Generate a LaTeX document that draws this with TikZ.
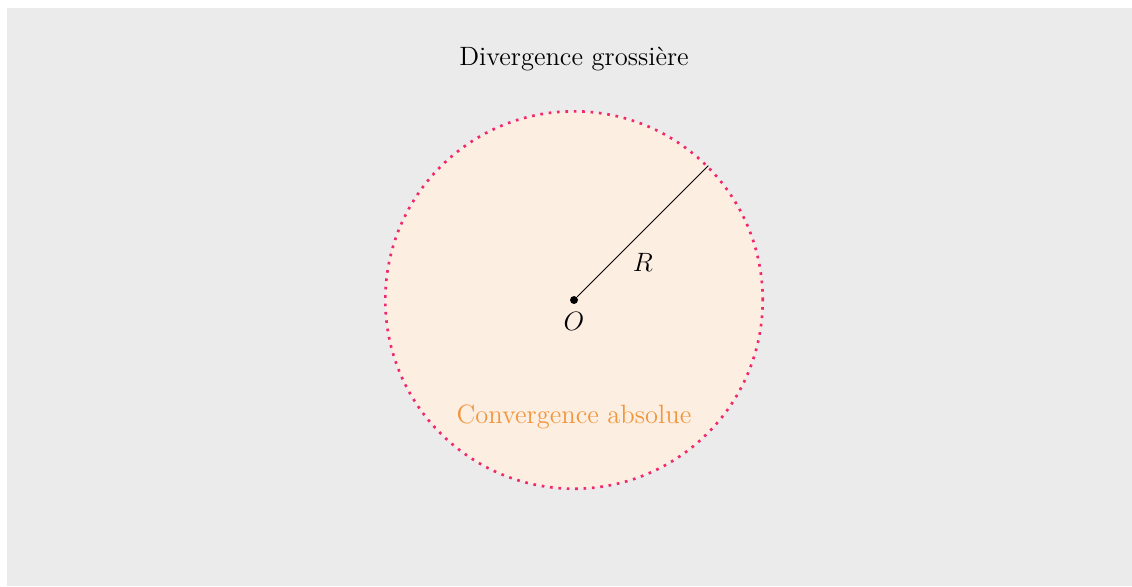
\documentclass[tikz,border=0pt]{standalone}
\usepackage{xcolor}
\usepackage{tikz}
\usetikzlibrary{positioning}
\definecolor{bgray}{RGB}{235,235,235}
\definecolor{peach}{RGB}{253,238,226}
\definecolor{absorange}{RGB}{240,150,60}
\definecolor{rimred}{RGB}{240,40,110}

\begin{document}
\begin{tikzpicture}[
  font=\large,
  disk/.style={circle, minimum size=6cm, inner sep=0pt, fill=peach,
               draw=rimred, line width=1.2pt, dash pattern=on 1.2pt off 2.6pt},
  dot/.style={circle, fill=black, inner sep=0pt, minimum size=3.6pt}
]
\useasboundingbox (-9.126,-4.547) rectangle (8.871,4.770);
\fill[bgray] (-9.014,-4.547) rectangle (8.871,4.642);
\node[disk] (conv) at (0,0) {};
\node[dot] (O) at (0,0) {};
\node[below=0pt of O] (Olbl) {$O$};
\draw (O) -- (conv.45) node[midway, below=2.2mm] (Rlbl) {$R$};
\node (div) at (0,3.83) {Divergence grossi\`ere};
\node[text=absorange] (abs) at (0,-1.86) {Convergence absolue};
\end{tikzpicture}
\end{document}
